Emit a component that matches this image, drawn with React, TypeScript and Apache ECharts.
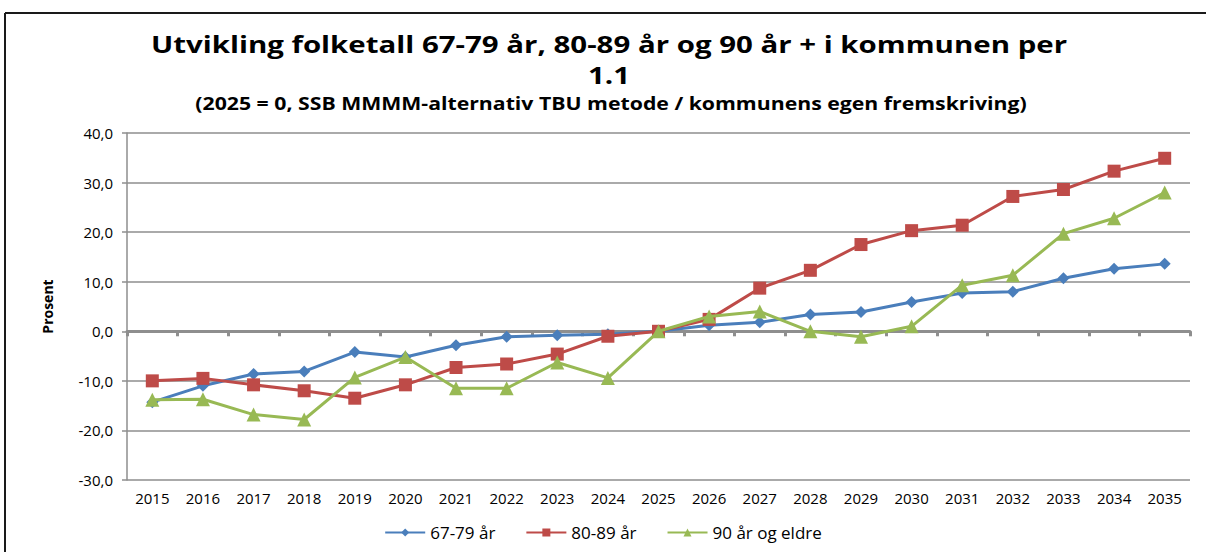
import React, { useEffect, useRef } from "react";
import * as echarts from "echarts";

const years = ["2015","2016","2017","2018","2019","2020","2021","2022","2023","2024","2025","2026","2027","2028","2029","2030","2031","2032","2033","2034","2035"];
const s6779 = [-14.3,-11.0,-8.6,-8.1,-4.2,-5.2,-2.8,-1.1,-0.8,-0.6,0.0,1.2,1.8,3.4,3.9,5.9,7.7,8.0,10.7,12.6,13.6];
const s8089 = [-10.0,-9.5,-10.8,-12.0,-13.5,-10.8,-7.3,-6.6,-4.6,-1.0,0.0,2.4,8.7,12.3,17.5,20.3,21.4,27.2,28.6,32.3,34.9];
const s90 = [-13.8,-13.7,-16.8,-17.8,-9.3,-5.2,-11.5,-11.5,-6.3,-9.4,0.0,3.0,4.0,0.0,-1.1,1.0,9.3,11.3,19.7,22.8,28.0];
const seriesNames = ["67-79 år", "80-89 år", "90 år og eldre"];
const titleLine1 = "Utvikling folketall 67-79 år, 80-89 år og 90 år + i kommunen per";
const titleLine2 = "1.1";
const subtitleText = "(2025 = 0, SSB MMMM-alternativ TBU metode / kommunens egen fremskriving)";

const FONT = "'Open Sans', Lato, sans-serif";

export default function App() {
  const ref = useRef<HTMLDivElement>(null);
  useEffect(() => {
    document.body.style.margin = "0";
    const chart = echarts.init(ref.current!, null, { renderer: "svg" });
    const grid = "#8e8e8e";
    chart.setOption({
      animation: false,
      backgroundColor: "#ffffff",
      textStyle: { fontFamily: FONT },
      grid: { left: 127, right: 16, top: 133, bottom: 72, containLabel: false },
      legend: {
        bottom: 6,
        left: "center",
        itemWidth: 40,
        itemHeight: 10,
        itemGap: 30,
        textStyle: { fontFamily: FONT, fontSize: 17, color: "#000" },
        data: seriesNames,
      },
      xAxis: [
        {
          type: "category",
          data: years,
          position: "bottom",
          axisLine: { show: false, onZero: false },
          axisTick: { show: false },
          axisLabel: { fontFamily: FONT, fontSize: 15, color: "#000", margin: 10, interval: 0 },
          splitLine: { show: false },
        },
        {
          type: "category",
          data: years,
          position: "bottom",
          axisLine: { show: true, onZero: true, lineStyle: { color: grid, width: 3 } },
          axisTick: { show: true, length: 5, interval: 0, lineStyle: { color: grid, width: 3 } },
          axisLabel: { show: false },
          splitLine: { show: false },
        },
      ],
      yAxis: {
        type: "value",
        min: -30,
        max: 40,
        interval: 10,
        name: "Prosent",
        nameLocation: "middle",
        nameGap: 73,
        nameTextStyle: { fontFamily: FONT, fontSize: 14, fontWeight: "bold", color: "#000" },
        axisLine: { show: true, lineStyle: { color: grid, width: 1.5 } },
        axisTick: { show: true, length: 5, lineStyle: { color: grid, width: 1.5 } },
        axisLabel: {
          fontFamily: FONT,
          fontSize: 15,
          color: "#000",
          margin: 14,
          formatter: (v: number) => v.toFixed(1).replace(".", ","),
        },
        splitLine: { show: true, lineStyle: { color: grid, width: 1.5 } },
      },
      series: [
        {
          name: seriesNames[0],
          type: "line",
          xAxisIndex: 0,
          data: s6779,
          symbol: "diamond",
          symbolSize: 12,
          lineStyle: { width: 3, color: "#4A7EBB" },
          itemStyle: { color: "#4A7EBB" },
          z: 3,
        },
        {
          name: seriesNames[1],
          type: "line",
          xAxisIndex: 0,
          data: s8089,
          symbol: "rect",
          symbolSize: 13,
          lineStyle: { width: 3, color: "#BE4B48" },
          itemStyle: { color: "#BE4B48" },
          z: 4,
        },
        {
          name: seriesNames[2],
          type: "line",
          xAxisIndex: 0,
          data: s90,
          symbol: "triangle",
          symbolSize: 14,
          lineStyle: { width: 3, color: "#98B954" },
          itemStyle: { color: "#98B954" },
          z: 5,
        },
      ],
      graphic: [
        { type: "line", shape: { x1: 5, y1: 13, x2: 1206, y2: 13 }, style: { stroke: "#1a1a1a", lineWidth: 2 } },
        { type: "line", shape: { x1: 5, y1: 13, x2: 5, y2: 552 }, style: { stroke: "#1a1a1a", lineWidth: 2 } },
        {
          type: "text", x: 609, y: 44, scaleX: 1.28,
          style: { text: titleLine1, fontFamily: FONT, fontSize: 23, fontWeight: "bold", fill: "#000", align: "center", verticalAlign: "middle" },
        },
        {
          type: "text", x: 609, y: 75, scaleX: 1.28,
          style: { text: titleLine2, fontFamily: FONT, fontSize: 23, fontWeight: "bold", fill: "#000", align: "center", verticalAlign: "middle" },
        },
        {
          type: "text", x: 611, y: 103, scaleX: 1.25,
          style: { text: subtitleText, fontFamily: FONT, fontSize: 17, fontWeight: "bold", fill: "#000", align: "center", verticalAlign: "middle" },
        },
      ],
    });
    return () => chart.dispose();
  }, []);
  return <div ref={ref} style={{ position: "absolute", left: 0, top: 0, width: 1206, height: 552 }} />;
}
